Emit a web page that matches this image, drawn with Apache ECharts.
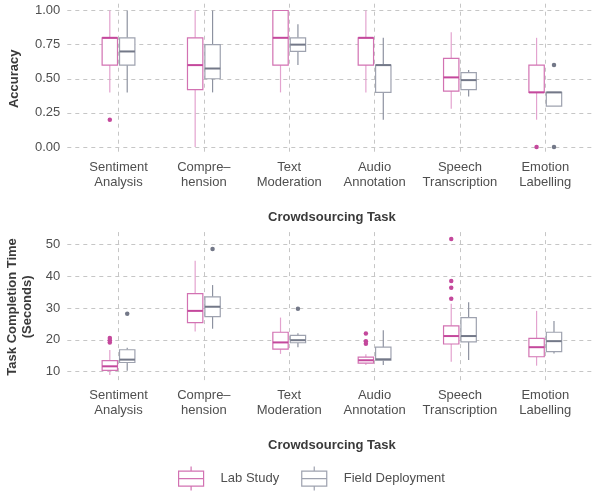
<!DOCTYPE html>
<html><head><meta charset="utf-8">
<script src="https://cdn.jsdelivr.net/npm/echarts@6/dist/echarts.min.js"></script>
<style>html,body{margin:0;padding:0;background:#fff}#c{width:593px;height:491px}</style>
</head><body><div id="c"></div>
<script>
// ---- data ----
var categories = ['Sentiment\nAnalysis', 'Compre\u2013\nhension', 'Text\nModeration', 'Audio\nAnnotation', 'Speech\nTranscription', 'Emotion\nLabelling'];
var groups = ['Lab Study', 'Field Deployment'];
var accTicks = [0, 0.25, 0.5, 0.75, 1.0];
var timeTicks = [10, 20, 30, 40, 50];
// [min, Q1, median, Q3, max] per category
var accLab = [
  [0.40, 0.60, 0.80, 0.80, 1.00],
  [0.00, 0.42, 0.60, 0.80, 1.00],
  [0.40, 0.60, 0.80, 1.00, 1.00],
  [0.40, 0.60, 0.80, 0.80, 1.00],
  [0.28, 0.41, 0.51, 0.65, 0.84],
  [0.20, 0.40, 0.40, 0.60, 0.80]
];
var accField = [
  [0.40, 0.60, 0.70, 0.80, 1.00],
  [0.40, 0.50, 0.575, 0.75, 1.00],
  [0.60, 0.70, 0.75, 0.80, 0.90],
  [0.20, 0.40, 0.60, 0.60, 0.80],
  [0.37, 0.42, 0.49, 0.545, 0.565],
  [0.30, 0.30, 0.40, 0.40, 0.40]
];
var accLabOut = [[0.2], [], [], [], [], [0.0]];
var accFieldOut = [[], [], [], [], [], [0.6, 0.0]];
var timeLab = [
  [9.0, 10.4, 11.7, 13.5, 16.8],
  [22.6, 25.4, 29.1, 34.5, 44.8],
  [15.6, 17.1, 19.2, 22.4, 27.0],
  [12.1, 12.7, 13.6, 14.6, 15.5],
  [13.1, 18.7, 21.2, 24.4, 31.3],
  [11.9, 14.7, 17.7, 20.5, 29.1]
];
var timeField = [
  [10.3, 12.9, 13.8, 16.9, 17.5],
  [23.5, 27.3, 30.4, 33.5, 37.2],
  [17.7, 19.1, 19.9, 21.4, 22.1],
  [12.1, 13.6, 13.9, 17.7, 23.0],
  [13.7, 19.4, 21.2, 27.0, 31.8],
  [15.7, 16.3, 19.6, 22.4, 25.9]
];
var timeLabOut = [[19.2, 19.9, 20.6], [], [], [18.8, 19.6, 22.0], [32.9, 36.4, 38.5, 51.7], []];
var timeFieldOut = [[28.2], [48.5], [29.8], [], [], []];

// ---- styles ----
var FONT = "'Liberation Sans', Arial, sans-serif";
var LAB = {box: '#d272b2', med: '#c4489c', whisk: '#e3a3cf', pt: '#c4489c'};
var FIELD = {box: '#9ea2af', med: '#737888', whisk: '#8d92a0', pt: '#737888'};
var DODGE = 0.102, BOXW = 0.18;
var GRID_L = 67.3, GRID_W = 529.2;

function boxData(stats) {
  return stats.map(function (s, i) { return [i + 1].concat(s); });
}
function outData(outs, off) {
  var r = [];
  outs.forEach(function (arr, i) { arr.forEach(function (v) { r.push([i + 1 + off, v]); }); });
  return r;
}
function makeRender(off, col) {
  return function (params, api) {
    var x = api.value(0) + off;
    var p = function (v) { return api.coord([x, v]); };
    var w = api.size([BOXW, 0])[0];
    var mn = p(api.value(1)), q1 = p(api.value(2)), md = p(api.value(3)), q3 = p(api.value(4)), mx = p(api.value(5));
    var cx = mn[0];
    return {
      type: 'group',
      children: [
        {type: 'line', shape: {x1: cx, y1: q3[1], x2: cx, y2: mx[1]}, style: {stroke: col.whisk, lineWidth: 1.2}},
        {type: 'line', shape: {x1: cx, y1: q1[1], x2: cx, y2: mn[1]}, style: {stroke: col.whisk, lineWidth: 1.2}},
        {type: 'rect', shape: {x: cx - w / 2, y: q3[1], width: w, height: q1[1] - q3[1]}, style: {fill: '#fff', stroke: col.box, lineWidth: 1.2}},
        {type: 'line', shape: {x1: cx - w / 2, y1: md[1], x2: cx + w / 2, y2: md[1]}, style: {stroke: col.med, lineWidth: 2}}
      ]
    };
  };
}

var dashSty = {type: [4, 4], color: '#c6c6c6', width: 1};
var labelSty = {color: '#4f4f4f', fontSize: 13, fontFamily: FONT};
var titleSty = {color: '#3a3a3a', fontSize: 13, fontWeight: 'bold', fontFamily: FONT, lineHeight: 15};

function xAxis(gi) {
  return {
    type: 'value', gridIndex: gi, min: 0.4, max: 6.6,
    name: 'Crowdsourcing Task', nameLocation: 'middle', nameGap: 56, nameTextStyle: titleSty,
    axisLine: {show: false}, axisTick: {show: false, customValues: [1, 2, 3, 4, 5, 6]},
    splitLine: {show: true, lineStyle: dashSty},
    axisLabel: Object.assign({customValues: [1, 2, 3, 4, 5, 6], margin: 6, lineHeight: 15,
      formatter: function (v) { return categories[Math.round(v) - 1] || ''; }}, labelSty)
  };
}
function yAxis(gi, min, max, ticks, name, gap, fmt) {
  return {
    type: 'value', gridIndex: gi, min: min, max: max,
    name: name, nameLocation: 'middle', nameRotate: 90, nameGap: gap, nameTextStyle: titleSty,
    axisLine: {show: false}, axisTick: {show: false, customValues: ticks},
    splitLine: {show: true, lineStyle: dashSty},
    axisLabel: Object.assign({customValues: ticks, margin: 7, formatter: fmt}, labelSty)
  };
}

var series = [];
function addPanel(gi, lab, field, labOut, fieldOut) {
  series.push({name: groups[0], type: 'custom', xAxisIndex: gi, yAxisIndex: gi, renderItem: makeRender(-DODGE, LAB),
    encode: {x: 0, y: [1, 2, 3, 4, 5]}, data: boxData(lab), itemStyle: {color: LAB.box}, silent: true, z: 2});
  series.push({name: groups[1], type: 'custom', xAxisIndex: gi, yAxisIndex: gi, renderItem: makeRender(DODGE, FIELD),
    encode: {x: 0, y: [1, 2, 3, 4, 5]}, data: boxData(field), itemStyle: {color: FIELD.box}, silent: true, z: 2});
  series.push({name: groups[0], type: 'scatter', xAxisIndex: gi, yAxisIndex: gi, symbolSize: 4.5,
    itemStyle: {color: LAB.pt, opacity: 1}, data: outData(labOut, -DODGE), silent: true, z: 3});
  series.push({name: groups[1], type: 'scatter', xAxisIndex: gi, yAxisIndex: gi, symbolSize: 4.5,
    itemStyle: {color: FIELD.pt, opacity: 1}, data: outData(fieldOut, DODGE), silent: true, z: 3});
}
addPanel(0, accLab, accField, accLabOut, accFieldOut);
addPanel(1, timeLab, timeField, timeLabOut, timeFieldOut);

var ICON = 'path://M12.5,0 V4.5 M0,4.5 H25 V19.5 H0 Z M0,12 H25 M12.5,19.5 V24';

var chart = echarts.init(document.getElementById('c'), null, {renderer: 'canvas'});
chart.setOption({
  animation: false,
  backgroundColor: '#fff',
  textStyle: {fontFamily: FONT},
  grid: [
    {left: GRID_L, width: GRID_W, top: 3.7, height: 150.1, containLabel: false, outerBoundsMode: 'none'},
    {left: GRID_L, width: GRID_W, top: 232.1, height: 149.6, containLabel: false, outerBoundsMode: 'none'}
  ],
  xAxis: [xAxis(0), xAxis(1)],
  yAxis: [
    yAxis(0, -0.05, 1.05, accTicks, 'Accuracy', 45, function (v) { return v.toFixed(2); }),
    yAxis(1, 6.87, 53.83, timeTicks, 'Task Completion Time\n(Seconds)', 27, function (v) { return String(v); })
  ],
  legend: {
    left: 178, top: 466, padding: 0, itemWidth: 25, itemHeight: 24, itemGap: 22,
    textStyle: Object.assign({padding: [0, 0, 0, 12]}, labelSty),
    selectedMode: false,
    data: [
      {name: groups[0], icon: ICON, itemStyle: {color: 'rgba(0,0,0,0)', borderColor: LAB.box, borderWidth: 1.2}},
      {name: groups[1], icon: ICON, itemStyle: {color: 'rgba(0,0,0,0)', borderColor: FIELD.box, borderWidth: 1.2}}
    ]
  },
  series: series
});
</script></body></html>
